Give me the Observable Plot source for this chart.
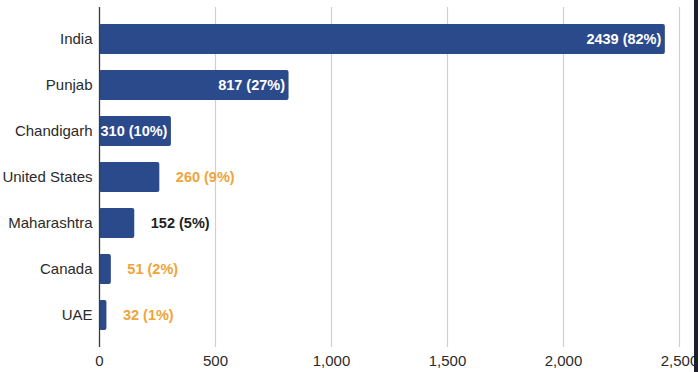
<!DOCTYPE html>
<html>
<head>
<meta charset="utf-8">
<script src="https://cdn.jsdelivr.net/npm/d3@7"></script>
<script src="https://cdn.jsdelivr.net/npm/@observablehq/plot@0.6"></script>
<style>
  html, body { margin: 0; padding: 0; background: #fff; }
  #wrap { position: relative; width: 698px; height: 372px; overflow: hidden; background: #fff; }
  #edge { position: absolute; top: 0; right: 0; width: 4px; height: 372px; background: #1b2029; }
</style>
</head>
<body>
<div id="wrap"><div id="edge"></div></div>
<script>
const categories = ["India", "Punjab", "Chandigarh", "United States", "Maharashtra", "Canada", "UAE"];
const counts = [2439, 817, 310, 260, 152, 51, 32];
const percents = [82, 27, 10, 9, 5, 2, 1];
const xTicks = [0, 500, 1000, 1500, 2000, 2500];

const data = categories.map((c, i) => ({cat: c, count: counts[i], pct: percents[i]}));
const label = d => `${d.count} (${d.pct}%)`;

const BAR = "#2b4a8c";
const ORANGE = "#f0a43a";
const inside = data.filter(d => d.count >= 300);
const outside = data.filter(d => d.count < 300);
const outsideColor = d => d.cat === "Maharashtra" ? "#1f1f1f" : ORANGE;

const chart = Plot.plot({
  width: 698,
  height: 372,
  marginLeft: 99,
  marginRight: 19,
  marginTop: 7,
  marginBottom: 25,
  style: {fontFamily: "'Liberation Sans', Arial, sans-serif", fontSize: "15px", color: "#2a2a2a", background: "transparent"},
  x: {domain: [0, 2500], ticks: xTicks, label: null},
  y: {domain: categories, padding: 0.35, label: null},
  marks: [
    Plot.gridX(xTicks.filter(t => t > 0), {stroke: "#d0d0d0", strokeOpacity: 1, strokeWidth: 1.2}),
    Plot.barX(data, {x: "count", y: "cat", fill: BAR, rx: 2}),
    Plot.ruleX([0], {stroke: "#3a3a3a", strokeWidth: 1.3}),
    Plot.axisX({ticks: xTicks, tickSize: 0, tickPadding: 8, tickFormat: d3.format(","), fontSize: 15, label: null}),
    Plot.axisY({tickSize: 0, tickPadding: 7, fontSize: 15, label: null}),
    Plot.text(inside, {x: "count", y: "cat", text: label, textAnchor: "end", dx: -4, fill: "white", fontWeight: "bold", fontSize: 14.5}),
    Plot.text(outside, {x: "count", y: "cat", text: label, textAnchor: "start", dx: 16, fill: outsideColor, fontWeight: "bold", fontSize: 14.5})
  ]
});
document.getElementById("wrap").prepend(chart);
</script>
</body>
</html>
